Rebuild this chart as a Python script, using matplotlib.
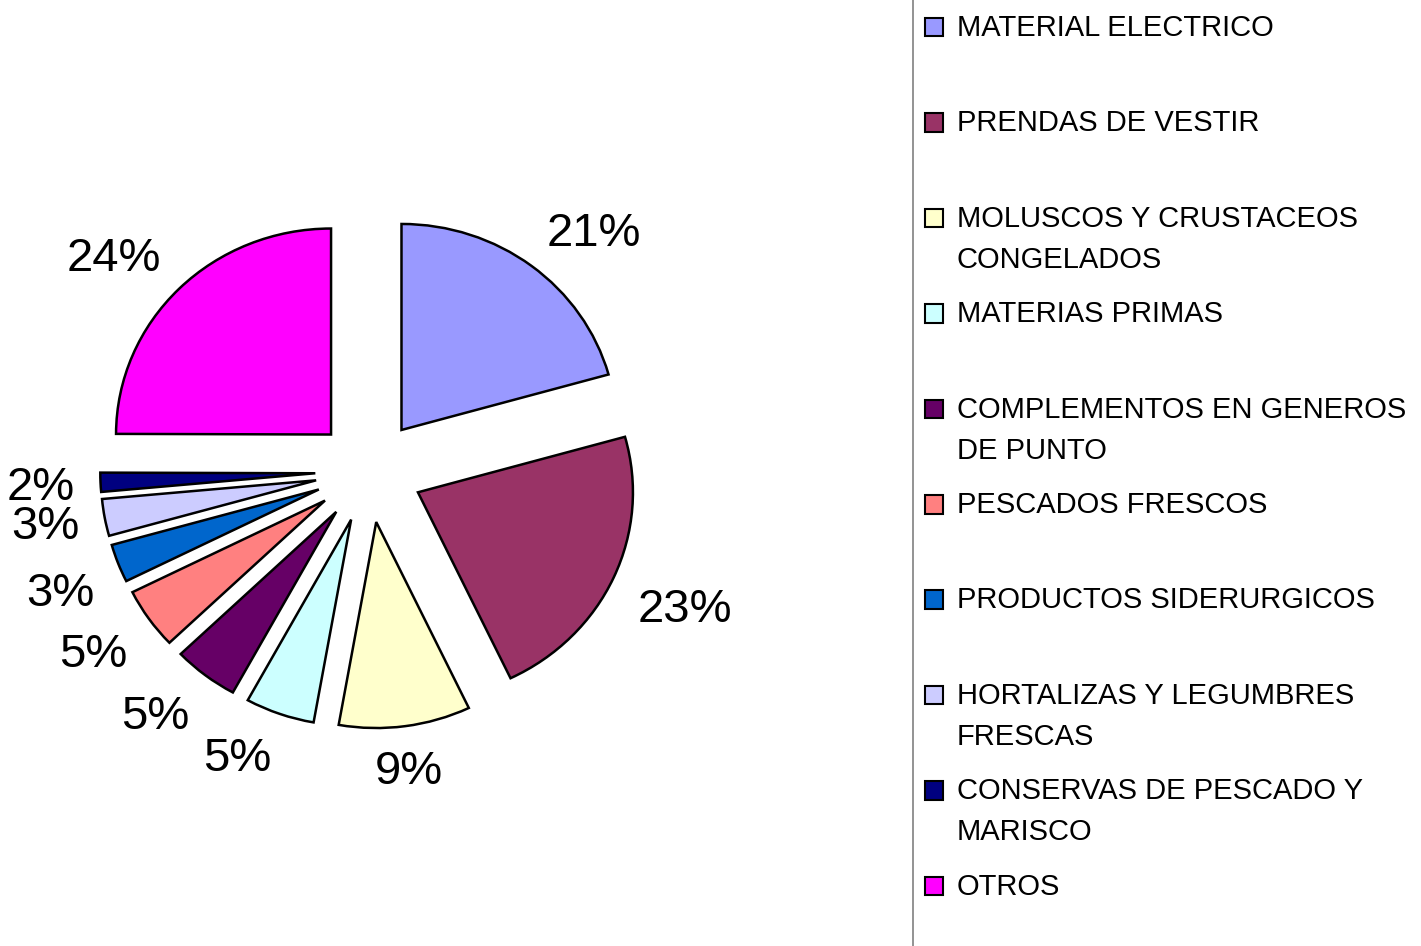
import matplotlib
matplotlib.use("Agg")
import matplotlib.pyplot as plt
from matplotlib.patches import Rectangle
from matplotlib.transforms import ScaledTranslation

plt.rcParams['font.family'] = ['Liberation Sans', 'DejaVu Sans']

# ---- data ----
categories = [
    "MATERIAL ELECTRICO",
    "PRENDAS DE VESTIR",
    "MOLUSCOS Y CRUSTACEOS\nCONGELADOS",
    "MATERIAS PRIMAS",
    "COMPLEMENTOS EN GENEROS\nDE PUNTO",
    "PESCADOS FRESCOS",
    "PRODUCTOS SIDERURGICOS",
    "HORTALIZAS Y LEGUMBRES\nFRESCAS",
    "CONSERVAS DE PESCADO Y\nMARISCO",
    "OTROS",
]
# slice shares as drawn (percent of the circle)
shares = [20.7, 22.3, 9.9, 5.2, 4.9, 4.8, 3.0, 2.9, 1.5, 25.0]
# percentage labels printed on the chart
pct_labels = ["21%", "23%", "9%", "5%", "5%", "5%", "3%", "3%", "2%", "24%"]
colors = ["#9999FF", "#993366", "#FFFFCC", "#CCFFFF", "#660066",
          "#FF8080", "#0066CC", "#CCCCFF", "#000080", "#FF00FF"]

W, H = 1421, 946
fig = plt.figure(figsize=(W / 100, H / 100), dpi=100)

# ---- pie ----
cx_px, cy_px = 369, 471      # pie centre in pixels (from top-left)
rx_px, ry_px = 215, 206      # horizontal / vertical radius in pixels
label_fs = 34

ax = fig.add_axes([0, 0, 1, 1])
wedges, texts = ax.pie(
    shares,
    labels=pct_labels,
    colors=colors,
    startangle=90,
    counterclock=False,
    explode=[0.25] * len(shares),
    labeldistance=1.12,
    wedgeprops=dict(edgecolor="black", linewidth=1.8),
    textprops=dict(fontsize=label_fs, color="black"),
)


def sector_alignment(a):
    """Label alignment around the anchor on the slice's mid ray."""
    if a <= 15 or a >= 345:
        return "left", "center"
    if a < 75:
        return "left", "bottom"
    if a <= 105:
        return "center", "bottom"
    if a < 165:
        return "right", "bottom"
    if a <= 195:
        return "right", "center"
    if a < 255:
        return "right", "top"
    if a <= 285:
        return "center", "top"
    return "left", "top"


# align on the glyph ink (digit height) rather than the full font box
cap_in = 0.716 * label_fs / 72.0
shift = {"bottom": 0.0, "center": -cap_in / 2.0, "top": -cap_in}
for w, t in zip(wedges, texts):
    a = ((w.theta1 + w.theta2) / 2.0) % 360.0
    ha, va = sector_alignment(a)
    t.set_ha(ha)
    t.set_va("baseline")
    t.set_transform(ax.transData +
                    ScaledTranslation(0, shift[va], fig.dpi_scale_trans))

ax.set_aspect("auto")
ax.set_xlim(-cx_px / rx_px, (W - cx_px) / rx_px)
ax.set_ylim(-(H - cy_px) / ry_px, cy_px / ry_px)
ax.axis("off")

# ---- legend (Excel style, fixed slot per entry) ----
lax = fig.add_axes([0, 0, 1, 1], facecolor="none")
lax.set_xlim(0, W)
lax.set_ylim(H, 0)
lax.axis("off")
lax.plot([913, 913], [0, H], color="#808080", lw=1.2)

slot = 95.4
first_cap_top = 14
for i, (name, col) in enumerate(zip(categories, colors)):
    top = first_cap_top + slot * i
    lax.add_patch(Rectangle((924.5, top + 4), 18.5, 18.5, facecolor=col,
                            edgecolor="black", lw=1.5))
    for j, line in enumerate(name.split("\n")):
        lax.text(957, top + 22 + 41 * j, line, fontsize=21, va="baseline",
                 ha="left", color="black")

fig.savefig("out.png", dpi=100)
